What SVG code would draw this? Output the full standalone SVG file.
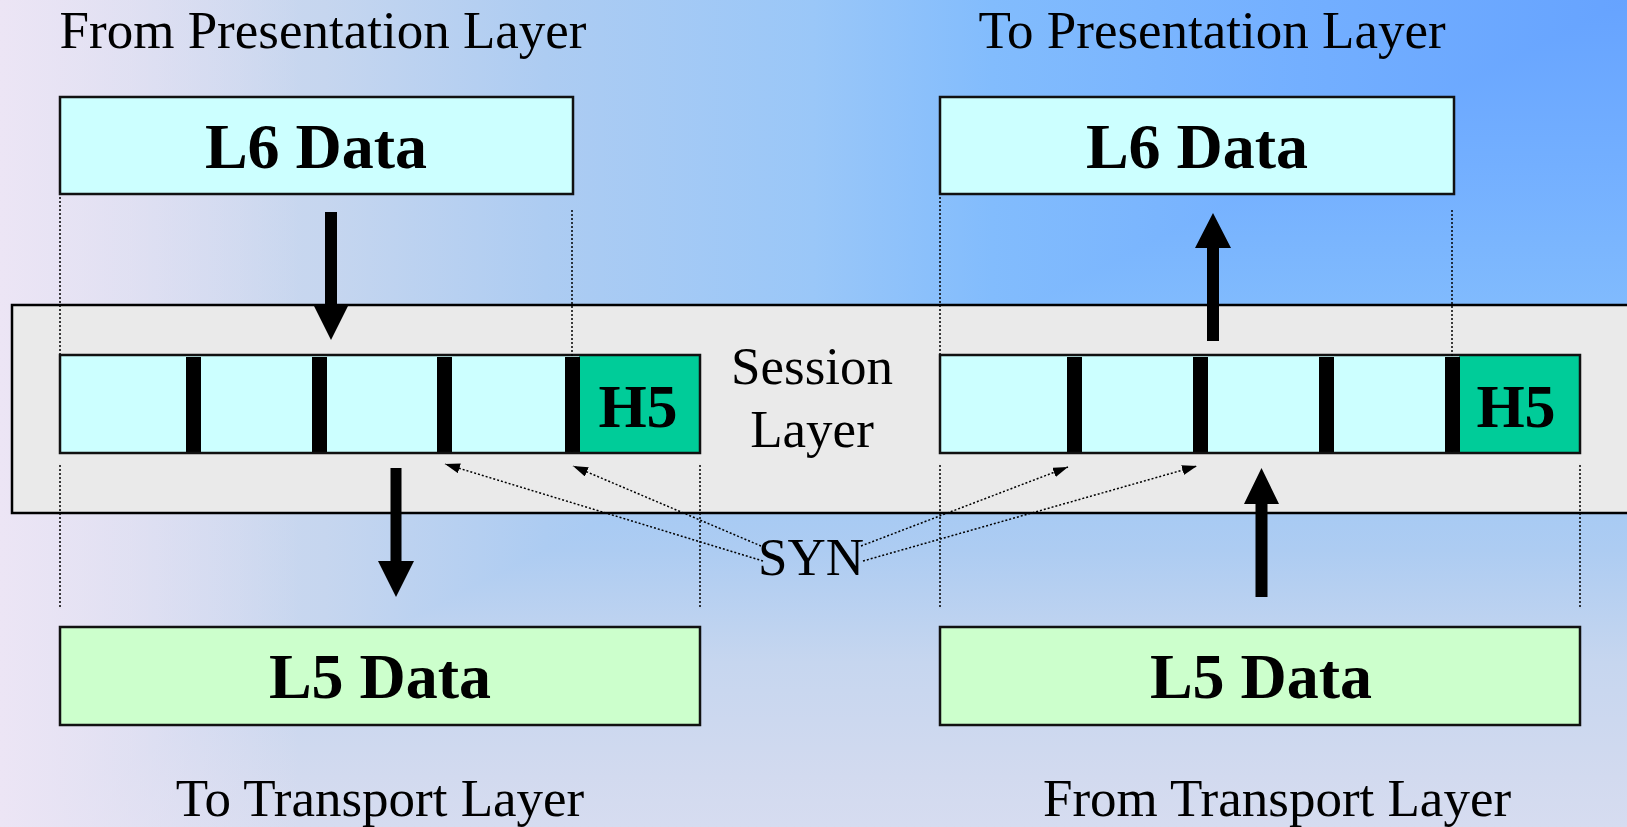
<svg xmlns="http://www.w3.org/2000/svg" width="1627" height="827" viewBox="0 0 1627 827">
  <defs>
    <linearGradient id="bgH" gradientUnits="userSpaceOnUse" x1="1627" y1="0" x2="0" y2="0">
      <stop offset="0" stop-color="#66A3FF"/>
      <stop offset="0.2" stop-color="#73AFFF"/>
      <stop offset="0.39" stop-color="#82BCFD"/>
      <stop offset="0.5" stop-color="#9AC7F8"/>
      <stop offset="0.665" stop-color="#ADCCF2"/>
      <stop offset="0.8" stop-color="#C6D6EF"/>
      <stop offset="0.94" stop-color="#D2DAEF"/>
      <stop offset="1" stop-color="#D6DCF0"/>
    </linearGradient>
    <linearGradient id="bgV" gradientUnits="userSpaceOnUse" x1="0" y1="0" x2="0" y2="827">
      <stop offset="0" stop-color="#66A3FF"/>
      <stop offset="0.2" stop-color="#73AFFF"/>
      <stop offset="0.39" stop-color="#82BCFD"/>
      <stop offset="0.5" stop-color="#9AC7F8"/>
      <stop offset="0.665" stop-color="#ADCCF2"/>
      <stop offset="0.8" stop-color="#C6D6EF"/>
      <stop offset="0.94" stop-color="#D2DAEF"/>
      <stop offset="1" stop-color="#D6DCF0"/>
    </linearGradient>
    <linearGradient id="bgL" gradientUnits="userSpaceOnUse" x1="0" y1="0" x2="300" y2="0">
      <stop offset="0" stop-color="#ECE5F5" stop-opacity="1"/>
      <stop offset="1" stop-color="#ECE5F5" stop-opacity="0"/>
    </linearGradient>
    <marker id="ah" markerUnits="userSpaceOnUse" markerWidth="16" markerHeight="11" refX="15" refY="5" orient="auto">
      <path d="M0,0 L15,5 L0,10 Z" fill="#000"/>
    </marker>
    <style>
      .lbl { font-family: "Liberation Serif", "Times New Roman", serif; font-size: 53px; fill: #000; text-anchor: middle; }
      .big { font-family: "Liberation Serif", "Times New Roman", serif; font-size: 64px; font-weight: bold; fill: #000; text-anchor: middle; }
      .h5 { font-family: "Liberation Serif", "Times New Roman", serif; font-size: 62px; font-weight: bold; fill: #000; text-anchor: middle; }
      .box { stroke: #111; stroke-width: 2.5; }
      .l6 { fill: #CCFFFF; }
      .l5 { fill: #CCFFCC; }
      .hdr { fill: #00CC99; }
      .div { fill: #000; }
      .dot { stroke: #000; stroke-width: 1.5; stroke-dasharray: 2 2; fill: none; }
      .syn { stroke: #000; stroke-width: 1.5; stroke-dasharray: 2 2; fill: none; marker-end: url(#ah); }
      .thick { fill: #000; }
    </style>
  </defs>

  <g id="background">
    <rect x="0" y="0" width="1627" height="827" fill="url(#bgH)"/>
    <polygon points="1627,0 1627,827 0,827" fill="url(#bgV)"/>
    <rect x="0" y="0" width="300" height="827" fill="url(#bgL)"/>
  </g>

  <g id="session-layer">
    <rect x="12" y="305" width="1640" height="208" fill="#EAEAEA" stroke="#000" stroke-width="2.5"/>
    <text class="lbl" x="812" y="384">Session</text>
    <text class="lbl" x="812" y="447">Layer</text>
  </g>

  <g id="labels">
    <text class="lbl" x="323" y="48">From Presentation Layer</text>
    <text class="lbl" x="1212" y="48">To Presentation Layer</text>
    <text class="lbl" x="380" y="816">To Transport Layer</text>
    <text class="lbl" x="1277" y="816">From Transport Layer</text>
  </g>

  <g id="left-l6">
    <rect class="box l6" x="60" y="97" width="513" height="97"/>
    <text class="big" x="316" y="168">L6 Data</text>
  </g>

  <g id="right-l6">
    <rect class="box l6" x="940" y="97" width="514" height="97"/>
    <text class="big" x="1197" y="168">L6 Data</text>
  </g>

  <g id="left-pdu">
    <rect class="l6" x="60" y="355" width="640" height="98"/>
    <rect class="hdr" x="579" y="355" width="121" height="98"/>
    <rect class="div" x="186" y="357" width="15" height="96"/>
    <rect class="div" x="312" y="357" width="15" height="96"/>
    <rect class="div" x="437" y="357" width="15" height="96"/>
    <rect class="div" x="565" y="357" width="15" height="96"/>
    <rect class="box" x="60" y="355" width="640" height="98" fill="none"/>
    <text class="h5" x="638" y="427">H5</text>
  </g>

  <g id="right-pdu">
    <rect class="l6" x="940" y="355" width="640" height="98"/>
    <rect class="hdr" x="1459" y="355" width="121" height="98"/>
    <rect class="div" x="1067" y="357" width="15" height="96"/>
    <rect class="div" x="1193" y="357" width="15" height="96"/>
    <rect class="div" x="1319" y="357" width="15" height="96"/>
    <rect class="div" x="1445" y="357" width="15" height="96"/>
    <rect class="box" x="940" y="355" width="640" height="98" fill="none"/>
    <text class="h5" x="1516" y="427">H5</text>
  </g>

  <g id="left-l5">
    <rect class="box l5" x="60" y="627" width="640" height="98"/>
    <text class="big" x="380" y="698">L5 Data</text>
  </g>

  <g id="right-l5">
    <rect class="box l5" x="940" y="627" width="640" height="98"/>
    <text class="big" x="1261" y="698">L5 Data</text>
  </g>

  <g id="syn-label">
    <text class="lbl" x="811" y="575">SYN</text>
  </g>

  <g id="connectors">
    <line class="dot" x1="60" y1="197" x2="60" y2="354"/>
    <line class="dot" x1="572" y1="210" x2="572" y2="454"/>
    <line class="dot" x1="940" y1="197" x2="940" y2="354"/>
    <line class="dot" x1="1452" y1="210" x2="1452" y2="454"/>
    <line class="dot" x1="60" y1="465" x2="60" y2="607"/>
    <line class="dot" x1="700" y1="465" x2="700" y2="607"/>
    <line class="dot" x1="940" y1="465" x2="940" y2="607"/>
    <line class="dot" x1="1580" y1="465" x2="1580" y2="607"/>

    <path class="thick" d="M325,212 H337 V304 H349 L331,340 L313,304 H325 Z"/>
    <path class="thick" d="M390.5,468 H401.5 V561 H414 L396,597 L378,561 H390.5 Z"/>
    <path class="thick" d="M1207,341 H1219 V248 H1231 L1213,213 L1195,248 H1207 Z"/>
    <path class="thick" d="M1255.5,597 H1267.5 V504 H1279 L1261.5,468 L1244,504 H1255.5 Z"/>

    <line class="syn" x1="763" y1="561" x2="445" y2="464"/>
    <line class="syn" x1="761" y1="546" x2="573" y2="466"/>
    <line class="syn" x1="861" y1="546" x2="1068" y2="467"/>
    <line class="syn" x1="863" y1="561" x2="1197" y2="466"/>
  </g>
</svg>
